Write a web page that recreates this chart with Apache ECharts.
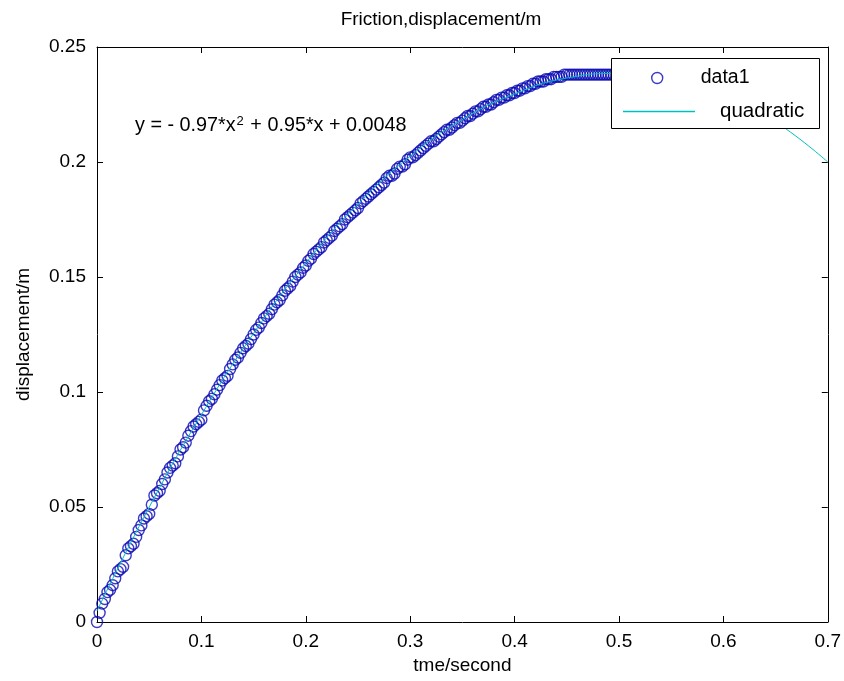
<!DOCTYPE html>
<html>
<head>
<meta charset="utf-8">
<script src="https://cdn.jsdelivr.net/npm/echarts@6/dist/echarts.min.js"></script>
<style>html,body{margin:0;padding:0;background:#fff;}#c{width:844px;height:681px;}</style>
</head>
<body>
<div id="c"></div>
<script>
// measured time stamps (s)
const timeS = [
0.0000,0.0025,0.0050,0.0075,0.0100,0.0125,0.0150,0.0175,0.0200,0.0225,
0.0250,0.0275,0.0300,0.0325,0.0350,0.0375,0.0400,0.0425,0.0450,0.0475,
0.0500,0.0525,0.0550,0.0575,0.0600,0.0625,0.0650,0.0675,0.0700,0.0725,
0.0750,0.0775,0.0800,0.0825,0.0850,0.0875,0.0900,0.0925,0.0950,0.0975,
0.1000,0.1025,0.1050,0.1075,0.1100,0.1125,0.1150,0.1175,0.1200,0.1225,
0.1250,0.1275,0.1300,0.1325,0.1350,0.1375,0.1400,0.1425,0.1450,0.1475,
0.1500,0.1525,0.1550,0.1575,0.1600,0.1625,0.1650,0.1675,0.1700,0.1725,
0.1750,0.1775,0.1800,0.1825,0.1850,0.1875,0.1900,0.1925,0.1950,0.1975,
0.2000,0.2025,0.2050,0.2075,0.2100,0.2125,0.2150,0.2175,0.2200,0.2225,
0.2250,0.2275,0.2300,0.2325,0.2350,0.2375,0.2400,0.2425,0.2450,0.2475,
0.2500,0.2525,0.2550,0.2575,0.2600,0.2625,0.2650,0.2675,0.2700,0.2725,
0.2750,0.2775,0.2800,0.2825,0.2850,0.2875,0.2900,0.2925,0.2950,0.2975,
0.3000,0.3025,0.3050,0.3075,0.3100,0.3125,0.3150,0.3175,0.3200,0.3225,
0.3250,0.3275,0.3300,0.3325,0.3350,0.3375,0.3400,0.3425,0.3450,0.3475,
0.3500,0.3525,0.3550,0.3575,0.3600,0.3625,0.3650,0.3675,0.3700,0.3725,
0.3750,0.3775,0.3800,0.3825,0.3850,0.3875,0.3900,0.3925,0.3950,0.3975,
0.4000,0.4025,0.4050,0.4075,0.4100,0.4125,0.4150,0.4175,0.4200,0.4225,
0.4250,0.4275,0.4300,0.4325,0.4350,0.4375,0.4400,0.4425,0.4450,0.4475,
0.4500,0.4525,0.4550,0.4575,0.4600,0.4625,0.4650,0.4675,0.4700,0.4725,
0.4750,0.4775,0.4800,0.4825,0.4850,0.4875,0.4900,0.4925,0.4950,0.4975,
0.5000];
// measured displacement (m)
const displacement = [
0.000,0.004,0.008,0.010,0.013,0.014,0.016,0.019,0.022,0.023,
0.024,0.029,0.032,0.033,0.034,0.037,0.040,0.042,0.045,0.046,
0.047,0.051,0.055,0.056,0.057,0.060,0.062,0.065,0.067,0.068,
0.069,0.072,0.075,0.076,0.078,0.081,0.083,0.085,0.086,0.087,
0.088,0.092,0.094,0.096,0.097,0.099,0.101,0.103,0.105,0.106,
0.107,0.110,0.112,0.114,0.115,0.117,0.119,0.120,0.121,0.123,
0.125,0.127,0.128,0.130,0.132,0.133,0.134,0.136,0.138,0.139,
0.140,0.142,0.144,0.145,0.146,0.148,0.150,0.151,0.152,0.154,
0.155,0.157,0.158,0.160,0.161,0.162,0.163,0.165,0.166,0.167,
0.168,0.170,0.171,0.172,0.173,0.175,0.176,0.177,0.178,0.179,
0.180,0.182,0.183,0.184,0.185,0.186,0.187,0.188,0.189,0.190,
0.191,0.193,0.194,0.194,0.195,0.197,0.198,0.198,0.199,0.201,
0.202,0.202,0.203,0.204,0.205,0.206,0.207,0.208,0.209,0.209,
0.210,0.211,0.212,0.213,0.214,0.214,0.215,0.216,0.217,0.217,
0.218,0.219,0.220,0.220,0.221,0.222,0.222,0.223,0.224,0.224,
0.225,0.225,0.226,0.227,0.227,0.228,0.228,0.229,0.229,0.230,
0.230,0.231,0.231,0.232,0.232,0.233,0.233,0.234,0.234,0.235,
0.235,0.235,0.236,0.236,0.236,0.237,0.237,0.237,0.237,0.238,
0.238,0.238,0.238,0.238,0.238,0.238,0.238,0.238,0.238,0.238,
0.238,0.238,0.238,0.238,0.238,0.238,0.238,0.238,0.238,0.238,
0.238];
// quadratic fit curve
const fitX = [0.00,0.05,0.10,0.15,0.20,0.25,0.30,0.35,0.40,0.45,0.50,0.55,0.60,0.65,0.70];
const fitY = [0.0048,0.0499,0.0901,0.1255,0.1560,0.1817,0.2025,0.2185,0.2296,0.2365,0.2385,0.2370,0.2300,0.2175,0.2000];
const xTicks = [0,0.1,0.2,0.3,0.4,0.5,0.6,0.7];
const yTicks = [0,0.05,0.1,0.15,0.2,0.25];

const FONT = 'Liberation Sans';
const FS = 19;
const MARK = '#0a0ab4';
const chart = echarts.init(document.getElementById('c'), null, {renderer:'canvas'});
const xMin = xTicks[0], xMax = xTicks[xTicks.length-1];
const yMin = yTicks[0], yMax = yTicks[yTicks.length-1];
const lbl = {fontFamily:FONT, fontSize:FS, color:'#000', formatter:v=>String(+v.toFixed(2))};
const line = {show:true, onZero:false, lineStyle:{color:'#000', width:1}};
const tick = {show:true, inside:true, length:6, lineStyle:{color:'#000', width:1}};
chart.setOption({
  animation:false,
  backgroundColor:'#fff',
  title:{text:'Friction,displacement/m', left:436, top:5, textAlign:'center',
    textStyle:{fontFamily:FONT, fontSize:FS, fontWeight:'normal', color:'#000'}},
  grid:{left:97, right:16, top:47, bottom:59},
  xAxis:[
    {type:'value', position:'bottom', min:xMin, max:xMax, interval:0.1,
      name:'tme/second', nameLocation:'middle', nameGap:30,
      nameTextStyle:{fontFamily:FONT, fontSize:FS, color:'#000'},
      axisLine:line, axisTick:tick, splitLine:{show:false},
      axisLabel:Object.assign({margin:10}, lbl)},
    {type:'value', position:'top', min:xMin, max:xMax, interval:0.1,
      axisLine:line, axisTick:tick, splitLine:{show:false}, axisLabel:{show:false}}
  ],
  yAxis:[
    {type:'value', position:'left', min:yMin, max:yMax, interval:0.05,
      name:'displacement/m', nameLocation:'middle', nameGap:64,
      nameTextStyle:{fontFamily:FONT, fontSize:FS, color:'#000'},
      axisLine:line, axisTick:tick, splitLine:{show:false},
      axisLabel:Object.assign({margin:11}, lbl)},
    {type:'value', position:'right', min:yMin, max:yMax, interval:0.05,
      axisLine:line, axisTick:tick, splitLine:{show:false}, axisLabel:{show:false}}
  ],
  legend:[
    {data:['data1'], left:651, top:68, padding:0, itemWidth:11, itemHeight:11, z:10,
      itemStyle:{color:'rgba(255,255,255,0)', borderColor:MARK, borderWidth:1.4},
      textStyle:{fontFamily:FONT, fontSize:19.5, color:'#000', padding:[0,0,0,33]}},
    {data:[{name:'quadratic', icon:'rect'}], left:623, top:101, padding:0, itemWidth:72, itemHeight:1.5, z:10,
      itemStyle:{color:'#00bfbf'},
      textStyle:{fontFamily:FONT, fontSize:20.5, color:'#000', padding:[0,0,0,20]}}
  ],
  graphic:[
    {type:'rect', z:5, shape:{x:611.5, y:58.5, width:208, height:70},
      style:{fill:'#fff', stroke:'#000', lineWidth:1}},
    {type:'text', z:6, left:135, top:115,
      style:{rich:{a:{fontFamily:FONT, fontSize:19.8, fill:'#000'},
                   s:{fontFamily:FONT, fontSize:13, fill:'#000', padding:[0,1,9,1]}},
             text:'{a|y = - 0.97*x}{s|2}{a| + 0.95*x + 0.0048}'}}
  ],
  series:[
    {name:'data1', type:'scatter', xAxisIndex:0, yAxisIndex:0,
      symbol:'circle', symbolSize:11, z:2,
      itemStyle:{color:'rgba(255,255,255,0)', borderColor:MARK, borderWidth:1.4},
      data: timeS.map((t,i)=>[t, displacement[i]])},
    {name:'quadratic', type:'line', xAxisIndex:0, yAxisIndex:0,
      smooth:true, symbol:'none', showSymbol:false, z:3,
      lineStyle:{color:'#00bfbf', width:1}, itemStyle:{color:'#00bfbf'},
      data: fitX.map((t,i)=>[t, fitY[i]])}
  ]
});
</script>
</body>
</html>
